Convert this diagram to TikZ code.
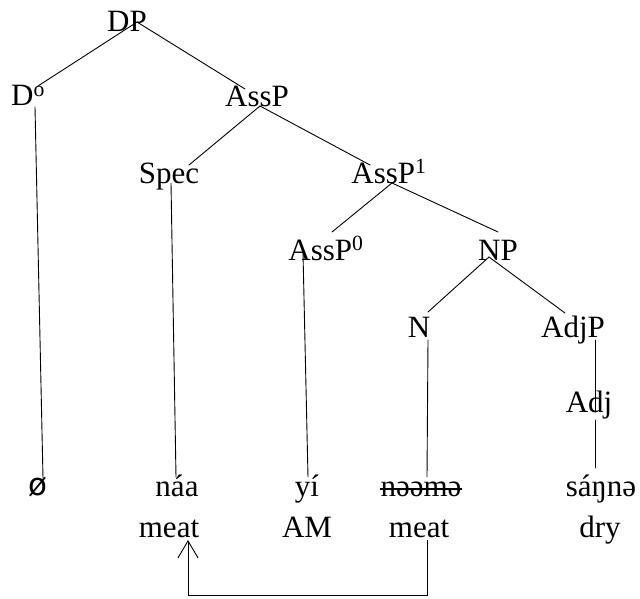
\documentclass[tikz,border=0pt]{standalone}
\usepackage{fontspec}
\setmainfont{Liberation Serif}
\newfontfamily\symfont{DejaVu Sans}
\usetikzlibrary{arrows.meta}
\begin{document}
\begin{tikzpicture}[x=1pt,y=-1pt,
  lab/.style={anchor=base,inner sep=0pt,font=\fontsize{31}{37}\selectfont},
  edge/.style={line width=0.9pt,line cap=round}]
\useasboundingbox (0,0) rectangle (640,599);

% category labels
\node[lab] (dp)    at (127,32)  {DP};
\node[lab] (d0)    at (28,106)  {D\textsuperscript{o}};
\node[lab] (assp)  at (257,107) {AssP};
\node[lab] (spec)  at (169,183) {Spec};
\node[lab] (assp1) at (389,183) {AssP\textsuperscript{1}};
\node[lab] (assp0) at (326,260) {AssP\textsuperscript{0}};
\node[lab] (np)    at (498,260) {NP};
\node[lab] (n)     at (419,337) {N};
\node[lab] (adjp)  at (573,337) {AdjP};
\node[lab] (adj)   at (589,412) {Adj};

% words
\node[lab] (w1) at (38,495)  {\symfont ø};
\node[lab] (w2) at (177,496) {náa};
\node[lab] (w3) at (307,496) {yí};
\node[lab] (w4) at (421,496) {nəəmə};
\node[lab] (w5) at (601,496) {sáŋnə};
% struck-out copy of the moved noun
\draw[line width=1.4pt] ([yshift=7pt]w4.base west) -- ([yshift=7pt]w4.base east);

% glosses
\node[lab] (g2) at (169,537) {meat};
\node[lab] (g3) at (307,537) {AM};
\node[lab] (g4) at (419,537) {meat};
\node[lab] (g5) at (600,537) {dry};

% branch end points
\coordinate (dp-l)    at (134,24);
\coordinate (dp-r)    at (137,22);
\coordinate (d0-t)    at (38,86);
\coordinate (d0-b)    at (35,107);
\coordinate (assp-t)  at (245,89);
\coordinate (assp-b)  at (260,106);
\coordinate (spec-t)  at (189,165);
\coordinate (spec-b)  at (171,183);
\coordinate (assp1-t) at (370,165);
\coordinate (assp1-b) at (392,183);
\coordinate (assp0-t) at (332,232);
\coordinate (assp0-b) at (303,253);
\coordinate (np-t)    at (498,232);
\coordinate (np-b)    at (489,257);
\coordinate (n-t)     at (428,312);
\coordinate (n-b)     at (428,340);
\coordinate (adjp-t)  at (565,313);
\coordinate (adjp-b)  at (595,340);
\coordinate (adj-b)   at (595,420);
\coordinate (w1-t)    at (43,478);
\coordinate (w2-t)    at (176,477);
\coordinate (w3-t)    at (308,477);
\coordinate (w4-t)    at (427,477);
\coordinate (w5-t)    at (595,468);
\coordinate (adj-t)   at (595,412);

% tree
\draw[edge] (dp-l) -- (d0-t);
\draw[edge] (dp-r) -- (assp-t);
\draw[edge] (assp-b) -- (spec-t);
\draw[edge] (assp-b) -- (assp1-t);
\draw[edge] (assp1-b) -- (assp0-t);
\draw[edge] (assp1-b) -- (np-t);
\draw[edge] (np-b) -- (n-t);
\draw[edge] (np-b) -- (adjp-t);
\draw[edge] (d0-b) -- (w1-t);
\draw[edge] (spec-b) -- (w2-t);
\draw[edge] (assp0-b) -- (w3-t);
\draw[edge] (n-b) -- (w4-t);
\draw[edge] (adjp-b) -- (adj-t);
\draw[edge] (adj-b) -- (w5-t);

% movement arrow
\coordinate (mv-s) at (427,540);
\coordinate (mv-e) at (188,540);
\draw[line width=0.9pt,-{Straight Barb[length=17pt,width=20pt]}]
  (mv-s) -- (427,595) -| (mv-e);
\end{tikzpicture}
\end{document}
